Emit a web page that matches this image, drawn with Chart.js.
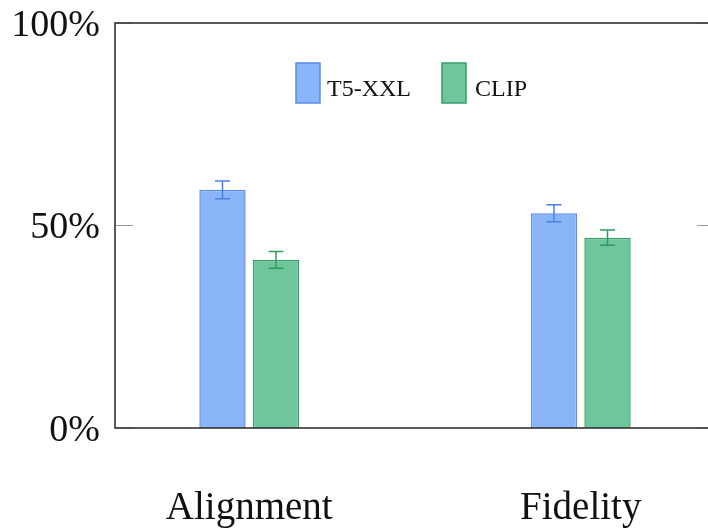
<!DOCTYPE html>
<html>
<head>
<meta charset="utf-8">
<script src="https://cdn.jsdelivr.net/npm/chart.js@4.4.1/dist/chart.umd.min.js"></script>
<style>
  html, body { margin: 0; padding: 0; background: #fff; overflow: hidden; }
  #wrap { position: relative; width: 716px; height: 529px; }
</style>
</head>
<body>
<div id="wrap"><canvas id="chart"></canvas></div>
<script>
const categories = [`Alignment`, `Fidelity`];
const seriesNames = [`T5-XXL`, `CLIP`];
const t5Values = [58.8, 53.0];
const t5Errors = [2.2, 2.1];
const clipValues = [41.5, 47.0];
const clipErrors = [2.05, 1.9];
const yTicks = [0, 50, 100];

const FONT = `"Liberation Serif", "DejaVu Serif", serif`;

const Palette = {
  t5: {fill: `#8ab4f8`, border: `#5a8cec`, err: `#4a80e6`},
  clip: {fill: `#6fc69b`, border: `#36a068`, err: `#2e9a62`}
};

const toPoints = (values) => values.map((v, i) => ({x: i, y: v}));

// error bars, frame, inward ticks and the legend
const decorPlugin = {
  id: `decor`,
  afterDatasetsDraw(chart) {
    const {ctx, chartArea: area, scales} = chart;
    const y = scales.y;

    chart.data.datasets.forEach((ds, di) => {
      const meta = chart.getDatasetMeta(di);
      meta.data.forEach((bar, i) => {
        const v = ds.data[i].y;
        const e = ds.errors[i];
        const top = y.getPixelForValue(v + e);
        const bottom = y.getPixelForValue(v - e);
        const half = 7.5;
        ctx.save();
        ctx.strokeStyle = ds.errorColor;
        ctx.lineWidth = 1.5;
        ctx.beginPath();
        ctx.moveTo(bar.x, top);
        ctx.lineTo(bar.x, bottom);
        ctx.moveTo(bar.x - half, top);
        ctx.lineTo(bar.x + half, top);
        ctx.moveTo(bar.x - half, bottom);
        ctx.lineTo(bar.x + half, bottom);
        ctx.stroke();
        ctx.restore();
      });
    });

    ctx.save();
    // inward ticks
    ctx.strokeStyle = `#9a9a9a`;
    ctx.lineWidth = 1.2;
    yTicks.forEach((t) => {
      const py = y.getPixelForValue(t);
      ctx.beginPath();
      ctx.moveTo(area.left, py);
      ctx.lineTo(area.left + 18, py);
      ctx.moveTo(area.right, py);
      ctx.lineTo(area.right - 18, py);
      ctx.stroke();
    });
    // frame
    ctx.strokeStyle = `#333`;
    ctx.lineWidth = 1.6;
    ctx.strokeRect(area.left, area.top, area.right - area.left, area.bottom - area.top);

    // legend
    const items = [{x: 296, textX: 327}, {x: 442, textX: 475}];
    ctx.font = `24px ${FONT}`;
    ctx.textBaseline = `alphabetic`;
    ctx.textAlign = `left`;
    chart.data.datasets.forEach((ds, di) => {
      const it = items[di];
      ctx.fillStyle = ds.backgroundColor;
      ctx.fillRect(it.x, 63, 24, 40);
      ctx.strokeStyle = ds.borderColor;
      ctx.lineWidth = 1.5;
      ctx.strokeRect(it.x, 63, 24, 40);
      ctx.fillStyle = `#111`;
      ctx.fillText(ds.label, it.textX, 96);
    });
    ctx.restore();
  }
};

new Chart(document.getElementById(`chart`), {
  type: `bar`,
  data: {
    datasets: [
      {
        label: seriesNames[0],
        data: toPoints(t5Values),
        errors: t5Errors,
        errorColor: Palette.t5.err,
        backgroundColor: Palette.t5.fill,
        borderColor: Palette.t5.border,
        borderWidth: 1.5
      },
      {
        label: seriesNames[1],
        data: toPoints(clipValues),
        errors: clipErrors,
        errorColor: Palette.clip.err,
        backgroundColor: Palette.clip.fill,
        borderColor: Palette.clip.border,
        borderWidth: 1.5
      }
    ]
  },
  options: {
    responsive: true,
    maintainAspectRatio: false,
    animation: false,
    devicePixelRatio: 1,
    categoryPercentage: 0.323,
    barPercentage: 0.866,
    layout: {padding: {top: 23, right: 1, bottom: 0, left: 0}},
    plugins: {
      legend: {display: false},
      tooltip: {enabled: false}
    },
    scales: {
      x: {
        type: `linear`,
        min: -0.405,
        max: 1.405,
        offset: false,
        grid: {display: false, drawTicks: false},
        border: {display: false},
        afterBuildTicks: (scale) => {
          scale.ticks = categories.map((c, i) => ({value: i}));
        },
        afterFit: (scale) => {
          scale.height = 101;
          scale.paddingLeft = 0;
          scale.paddingRight = 0;
        },
        ticks: {
          callback: (value) => categories[value],
          font: {family: FONT, size: 39},
          color: `#111`,
          padding: 57,
          maxRotation: 0,
          autoSkip: false
        }
      },
      y: {
        min: 0,
        max: 100,
        grid: {display: false, drawTicks: false},
        border: {display: false},
        afterBuildTicks: (scale) => {
          scale.ticks = yTicks.map((v) => ({value: v}));
        },
        afterFit: (scale) => {
          scale.width = 115;
          scale.paddingTop = 0;
          scale.paddingBottom = 0;
        },
        ticks: {
          callback: (value) => `${value}%`,
          font: {family: FONT, size: 38},
          color: `#111`,
          padding: 15,
          labelOffset: 3
        }
      }
    }
  },
  plugins: [decorPlugin]
});
</script>
</body>
</html>
